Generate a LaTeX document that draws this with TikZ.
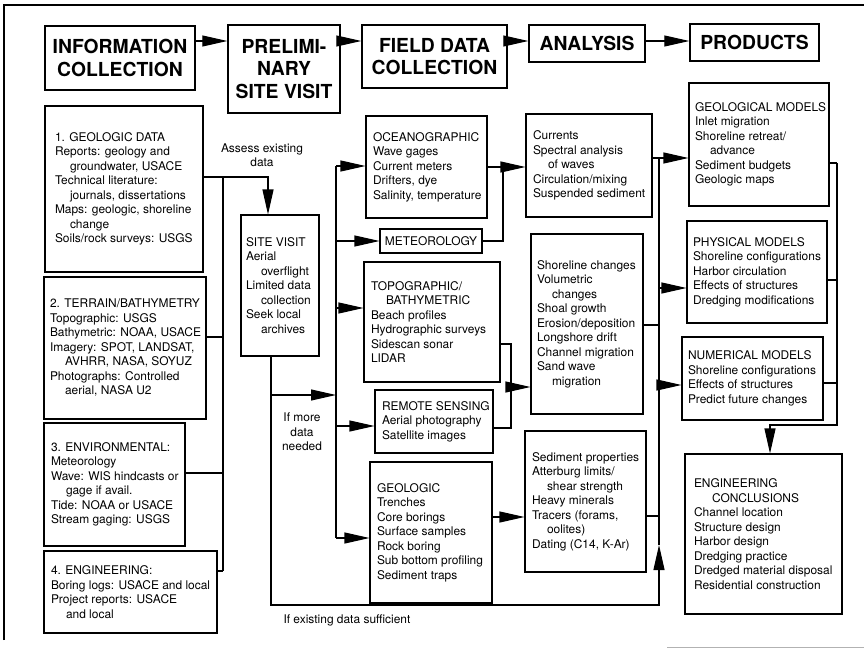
\documentclass[tikz,border=0pt]{standalone}
\usepackage{fontspec}
\setmainfont{TeX Gyre Heros}
\usetikzlibrary{arrows.meta}
\newlength\pu \setlength\pu{0.02cm}
\newcommand\ind{\hspace*{15\pu}}
\tikzset{
  blk/.style 2 args={draw, minimum width=#1\pu, minimum height=#2\pu, inner sep=0pt},
  hd/.style 2 args={draw, line width=.8pt, minimum width=#1\pu, minimum height=#2\pu, inner sep=2pt, align=center, font=\bfseries\fontsize{11}{13}\selectfont},
  txt/.style={anchor=west, align=left, inner xsep=7\pu, inner ysep=0pt, font=\fontsize{6.8}{8.25}\selectfont},
  note/.style={align=center, inner sep=0pt, font=\fontsize{6.8}{8.25}\selectfont},
  arr/.style={-{Triangle[length=5mm,width=2.2mm]}}
}
\begin{document}
\begin{tikzpicture}[x=1\pu, y=-1\pu, line width=.6pt]
\useasboundingbox (0,0) rectangle (864,648);
% frame of the scan
\draw[line width=1pt] (4,640) -- (4,5) -- (864,5);
\draw[gray!60, line width=.5pt] (667,647) -- (864,647);

% header row
\node[hd={150}{64}] (info) at (120,58) {INFORMATION\\COLLECTION};
\node[hd={112}{88}] (prel) at (284,69) {PRELIMI-\\NARY\\SITE VISIT};
\node[hd={145}{63}] (field) at (434.5,56.5) {FIELD DATA\\COLLECTION};
\node[hd={116}{37}] (anal) at (587,43.5) {ANALYSIS};
\node[hd={129}{37}] (prod) at (754.5,42.5) {PRODUCTS};
\coordinate (hy) at (0,41);
\foreach \a/\b in {info/prel,prel/field,field/anal,anal/prod}
  \draw[arr] (\a.east |- hy) -- (\b.west |- hy);

% information collection
\node[blk={158}{166}] (g1) at (124,189) {};
\node[txt, inner xsep=10\pu] at (g1.west) {1. GEOLOGIC DATA\\Reports: geology and\\\ind groundwater, USACE\\Technical literature:\\\ind journals, dissertations\\Maps: geologic, shoreline\\\ind change\\Soils/rock surveys: USGS};
\node[blk={162}{142}] (g2) at (125,348) {};
\node[txt, inner xsep=6\pu] at (g2.west) {2. TERRAIN/BATHYMETRY\\Topographic: USGS\\Bathymetric: NOAA, USACE\\Imagery: SPOT, LANDSAT,\\\ind AVHRR, NASA, SOYUZ\\Photographs: Controlled\\\ind aerial, NASA U2};
\node[blk={141}{123}] (g3) at (114.5,484.5) {};
\node[txt] at (g3.west) {3. ENVIRONMENTAL:\\Meteorology\\Wave: WIS hindcasts or\\\ind gage if avail.\\Tide: NOAA or USACE\\Stream gaging: USGS};
\node[blk={173}{82}] (g4) at (130.5,592) {};
\node[txt] at (g4.west) {4. ENGINEERING:\\Boring logs: USACE and local\\Project reports: USACE\\\ind and local};
\draw (223,177) -- (223,571);
\foreach \n/\y in {g2/337,g3/473,g4/571} \draw (\n.east |- 0,\y) -- (223,\y);

% preliminary site visit
\node[blk={78}{141}] (site) at (280,285.5) {};
\node[txt, inner xsep=5\pu] at (site.west) {SITE VISIT\\Aerial\\\ind overflight\\Limited data\\\ind collection\\Seek local\\\ind archives};
\draw[arr] (g1.east |- 0,177) -| (site.north -| 268,0);
\node[note] (assess) at (262,155) {Assess existing\\data};
\node[note] (more) at (302,432) {If more\\data\\needed};
\node[note, anchor=west] (enough) at (283,620) {If existing data sufficient};

% field data collection
\node[blk={121}{102}] (ocean) at (426.5,167) {};
\node[txt] at (ocean.west) {OCEANOGRAPHIC\\Wave gages\\Current meters\\Drifters, dye\\Salinity, temperature};
\node[blk={102}{24}, font=\fontsize{6.8}{8.25}\selectfont] (meteo) at (431,241) {METEOROLOGY};
\node[blk={136}{120}] (topo) at (432,322) {};
\node[txt] at (topo.west) {TOPOGRAPHIC/\\\ind BATHYMETRIC\\Beach profiles\\Hydrographic surveys\\Sidescan sonar\\LIDAR};
\node[blk={118}{63}] (remote) at (434,421.5) {};
\node[txt] at (remote.west) {REMOTE SENSING\\Aerial photography\\Satellite images};
\node[blk={122}{141}] (geo) at (431,532.5) {};
\node[txt] at (geo.west) {GEOLOGIC\\Trenches\\Core borings\\Surface samples\\Rock boring\\Sub bottom profiling\\Sediment traps};
\draw[arr] (site.south -| 271,0) |- (659,605) -- (659,545);
\draw[arr] (271,395) -- (336,395);
\draw (336,166) -- (336,538);
\foreach \n/\y in {ocean/166,meteo/241,topo/308,remote/426,geo/538}
  \draw[arr] (336,\y) -- (\n.west |- 0,\y);

% analysis
\node[blk={126}{103}] (curr) at (589,165.5) {};
\node[txt] at (curr.west) {Currents\\Spectral analysis\\\ind of waves\\Circulation/mixing\\Suspended sediment};
\node[blk={112}{180}] (shore) at (587,324) {};
\node[txt, inner xsep=6\pu] at (shore.west) {Shoreline changes\\Volumetric\\\ind changes\\Shoal growth\\Erosion/deposition\\Longshore drift\\Channel migration\\Sand wave\\\ind migration};
\node[blk={121}{141}] (sed) at (585.5,501.5) {};
\node[txt] at (sed.west) {Sediment properties\\Atterburg limits/\\\ind shear strength\\Heavy minerals\\Tracers (forams,\\\ind oolites)\\Dating (C14, K-Ar)};
\draw[arr] (ocean.east |- 0,167) -- (curr.west |- 0,167);
\draw (meteo.east) -| (503,167);
\draw (topo.east |- 0,344) -| (511,428) -- (remote.east |- 0,428);
\draw[arr] (511,387) -- (shore.west |- 0,387);
\draw[arr] (geo.east |- 0,517) -- (sed.west |- 0,517);

% products
\node[blk={140}{123}] (geomod) at (759,144.5) {};
\node[txt, inner xsep=6\pu] at (geomod.west) {GEOLOGICAL MODELS\\Inlet migration\\Shoreline retreat/\\\ind advance\\Sediment budgets\\Geologic maps};
\node[blk={140}{102}] (phys) at (757,272) {};
\node[txt, inner xsep=6\pu] at (phys.west) {PHYSICAL MODELS\\Shoreline configurations\\Harbor circulation\\Effects of structures\\Dredging modifications};
\node[blk={141}{83}] (num) at (752.5,378.5) {};
\node[txt, inner xsep=6\pu] at (num.west) {NUMERICAL MODELS\\Shoreline configurations\\Effects of structures\\Predict future changes};
\node[blk={157}{160}] (eng) at (763.5,534) {};
\node[txt, inner xsep=9\pu] at (eng.west) {ENGINEERING\\\hspace*{18\pu}CONCLUSIONS\\Channel location\\Structure design\\Harbor design\\Dredging practice\\Dredged material disposal\\Residential construction};
\draw (curr.east |- 0,158) -| (659,545);
\draw (shore.east |- 0,325) -- (659,325);
\draw (sed.east |- 0,516) -- (659,516);
\foreach \n/\y in {geomod/158,phys/288,num/385}
  \draw[arr] (659,\y) -- (\n.west |- 0,\y);
\foreach \n/\y in {geomod/163,phys/280,num/383}
  \draw (\n.east |- 0,\y) -- (837,\y);
\draw[arr] (837,163) |- (770,425) -- (eng.north -| 770,0);
\end{tikzpicture}
\end{document}
